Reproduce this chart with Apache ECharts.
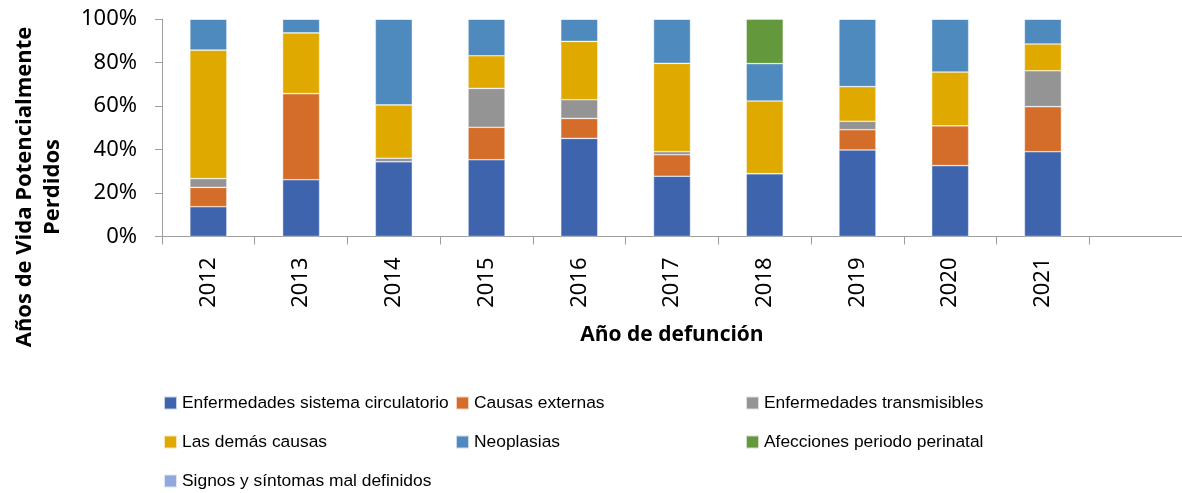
<!DOCTYPE html>
<html>
<head>
<meta charset="utf-8">
<script src="https://cdn.jsdelivr.net/npm/echarts@6/dist/echarts.min.js"></script>
<style>
  html, body { margin: 0; padding: 0; background: #fff; }
  #chart { width: 1182px; height: 493px; }
</style>
</head>
<body>
<div id="chart"></div>
<script>
// años (the last slot is empty in the original chart)
const years = ['2012', '2013', '2014', '2015', '2016', '2017', '2018', '2019', '2020', '2021', '']

// % of AVPP by cause
const circulatorio = [13.7, 26.1, 34.4, 35.3, 45.1, 27.7, 28.9, 39.8, 32.6, 39.0]
const externas = [8.9, 39.6, 0, 14.9, 9.2, 9.9, 0, 9.3, 18.3, 20.7]
const transmisibles = [4.0, 0, 1.6, 17.9, 8.6, 1.4, 0, 3.9, 0, 16.5]
const demas = [59.1, 27.9, 24.5, 15.0, 26.8, 40.6, 33.4, 15.9, 24.7, 12.3]
const neoplasias = [14.3, 6.4, 39.5, 16.9, 10.3, 20.4, 17.2, 31.1, 24.4, 11.5]
const perinatal = [0, 0, 0, 0, 0, 0, 20.5, 0, 0, 0]
const signos = [0, 0, 0, 0, 0, 0, 0, 0, 0, 0]

const yTicks = [0, 20, 40, 60, 80, 100]

const series = [
  { name: 'Enfermedades sistema circulatorio', data: circulatorio, color: '#3D64AD' },
  { name: 'Causas externas', data: externas, color: '#D46D29' },
  { name: 'Enfermedades transmisibles', data: transmisibles, color: '#949494' },
  { name: 'Las demás causas', data: demas, color: '#E0A900' },
  { name: 'Neoplasias', data: neoplasias, color: '#4F8ABE' },
  { name: 'Afecciones periodo perinatal', data: perinatal, color: '#64983C' },
  { name: 'Signos y síntomas mal definidos', data: signos, color: '#91A9DA' },
]

const axisGray = '#9E9E9E'
const labelFont = "'Noto Sans', 'Open Sans', sans-serif"
const titleFont = "'Open Sans', 'Noto Sans', sans-serif"
const legendFont = "'Liberation Sans', Arial, sans-serif"

const legendText = { color: '#000', fontFamily: legendFont, fontSize: 17.4, lineHeight: 21 }
// one vertical legend per column, rows 39px apart
const legendBase = {
  orient: 'vertical',
  top: 392.5,
  padding: 0,
  itemWidth: 13,
  itemHeight: 13,
  itemGap: 18,
  icon: 'rect',
  selectedMode: false,
  textStyle: legendText,
}

const chart = echarts.init(document.getElementById('chart'))
chart.setOption({
  animation: false,
  grid: { left: 162, top: 19, right: 0, bottom: 256.5, outerBoundsMode: 'none' },
  legend: [
    { ...legendBase, left: 163, data: [series[0].name, series[3].name, series[6].name] },
    { ...legendBase, left: 455, data: [series[1].name, series[4].name] },
    { ...legendBase, left: 745, data: [series[2].name, series[5].name] },
  ],
  xAxis: {
    type: 'category',
    data: years,
    name: 'Año de defunción',
    nameLocation: 'middle',
    nameGap: 88,
    nameTextStyle: { fontFamily: titleFont, fontWeight: 'bold', fontSize: 21, color: '#000', verticalAlign: 'top' },
    axisLine: { lineStyle: { color: axisGray, width: 1 } },
    axisTick: { show: true, length: 8, lineStyle: { color: axisGray } },
    axisLabel: { rotate: 90, margin: 21, fontFamily: labelFont, fontSize: 22, color: '#000', interval: 0 },
    splitLine: { show: false },
  },
  yAxis: {
    type: 'value',
    min: yTicks[0],
    max: yTicks[yTicks.length - 1],
    interval: 20,
    axisLine: { show: true, lineStyle: { color: axisGray, width: 1 } },
    axisTick: { show: true, length: 7, lineStyle: { color: axisGray } },
    axisLabel: { formatter: '{value}%', margin: 25, fontFamily: labelFont, fontSize: 22, color: '#000' },
    splitLine: { show: false },
  },
  graphic: [
    {
      type: 'text',
      x: 39,
      y: 187,
      rotation: Math.PI / 2,
      style: {
        text: 'Años de Vida Potencialmente\nPerdidos',
        fill: '#000',
        font: `bold 22px ${titleFont}`,
        align: 'center',
        verticalAlign: 'middle',
        lineHeight: 28,
      },
    },
  ],
  series: series.map((s) => ({
    name: s.name,
    type: 'bar',
    stack: 'total',
    barWidth: 37,
    data: s.data,
    itemStyle: { color: s.color, borderColor: 'rgba(255,255,255,0.7)', borderWidth: 0.6 },
    emphasis: { disabled: true },
  })),
})
</script>
</body>
</html>
